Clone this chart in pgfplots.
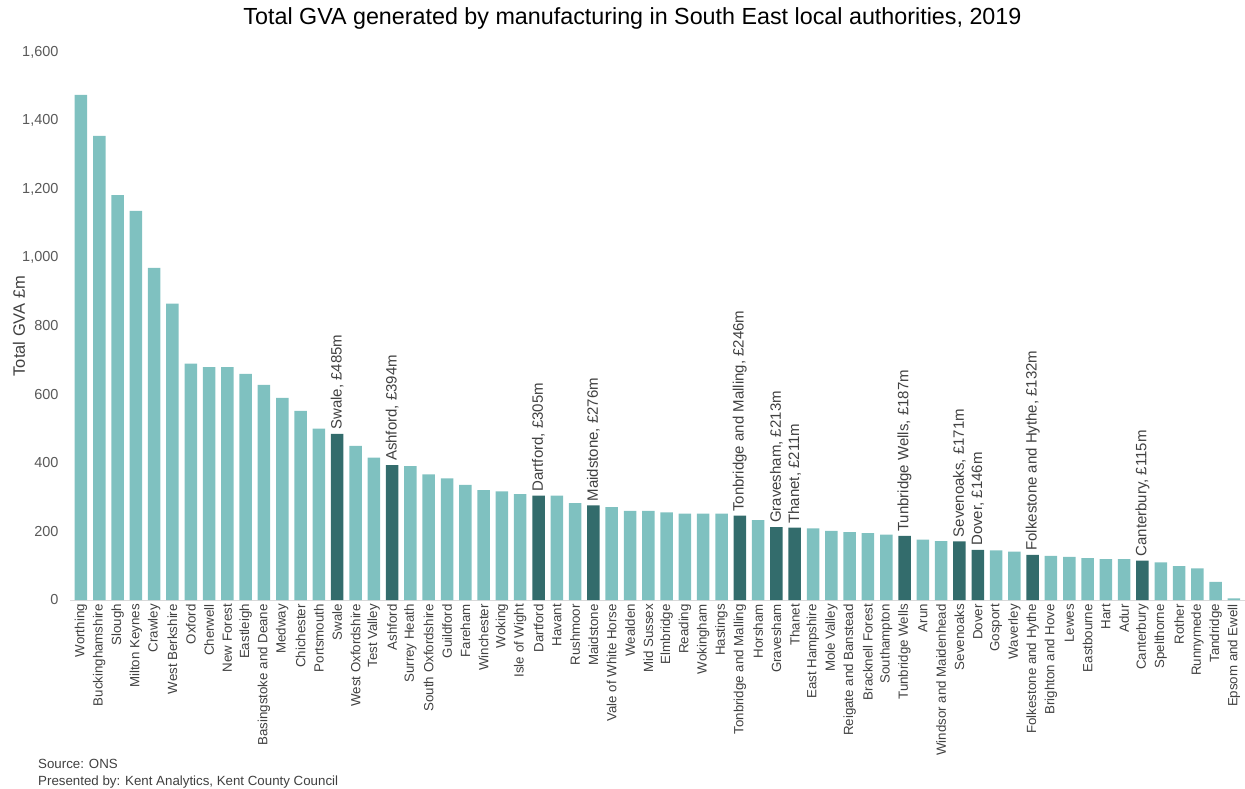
\documentclass[border=0pt]{standalone}
\usepackage{pgfplots}
\pgfplotsset{compat=1.18}
\usepackage{pgfplotstable}
\usepackage{fontspec}
\setmainfont{Liberation Sans}
\definecolor{lightbar}{RGB}{127,193,192}
\definecolor{darkbar}{RGB}{51,108,108}
\definecolor{ticktext}{RGB}{89,89,89}
\definecolor{cattext}{RGB}{64,64,64}
\definecolor{axisgrey}{RGB}{217,217,217}

\pgfplotstableread{
x y
0 1475
1 1355
2 1182
3 1136
4 970
5 865
6 690
7 680
8 680
9 660
10 628
11 590
12 552
13 500
15 450
16 416
18 391
19 367
20 355
21 336
22 321
23 317
24 309
26 305
27 283
29 271
30 260
31 260
32 256
33 252
34 252
35 252
37 233
40 209
41 202
42 198
43 195
44 191
46 176
47 172
50 145
51 141
53 129
54 126
55 122
56 119
57 119
59 110
60 99
61 92
62 53
63 5
}\lightdata

\pgfplotstableread{
x y label
14 485 {Swale, £485m}
17 394 {Ashford, £394m}
25 305 {Dartford, £305m}
28 276 {Maidstone, £276m}
36 246 {Tonbridge and Malling, £246m}
38 213 {Gravesham, £213m}
39 211 {Thanet, £211m}
45 187 {Tunbridge Wells, £187m}
48 171 {Sevenoaks, £171m}
49 146 {Dover, £146m}
52 132 {Folkestone  and Hythe, £132m}
58 115 {Canterbury, £115m}
}\darkdata

\begin{document}
\begin{tikzpicture}
\useasboundingbox (0,0) rectangle (1245bp,789bp);
\begin{axis}[
  at={(70bp,189bp)}, anchor=south west,
  scale only axis, width=1175bp, height=548bp,
  ybar, bar width=12.5bp,
  xmin=-0.6, xmax=63.6, ymin=0, ymax=1600,
  enlargelimits=false,
  axis x line=bottom, axis y line=left,
  axis line style={-},
  x axis line style={draw=axisgrey, line width=1bp},
  y axis line style={draw=none},
  xtick={0,...,63},
  xticklabels={Worthing, Buckinghamshire, Slough, Milton Keynes, Crawley, West Berkshire, Oxford, Cherwell, New Forest, Eastleigh, Basingstoke and Deane, Medway, Chichester, Portsmouth, Swale, West Oxfordshire, Test Valley, Ashford, Surrey Heath, South Oxfordshire, Guildford, Fareham, Winchester, Woking, Isle of Wight, Dartford, Havant, Rushmoor, Maidstone, Vale of White Horse, Wealden, Mid Sussex, Elmbridge, Reading, Wokingham, Hastings, Tonbridge and Malling, Horsham, Gravesham, Thanet, East Hampshire, Mole Valley, Reigate and Banstead, Bracknell Forest, Southampton, Tunbridge Wells, Arun, Windsor and Maidenhead, Sevenoaks, Dover, Gosport, Waverley, Folkestone and Hythe, Brighton and Hove, Lewes, Eastbourne, Hart, Adur, Canterbury, Spelthorne, Rother, Runnymede, Tandridge, Epsom and Ewell},
  xticklabel style={rotate=90, anchor=east, font=\fontsize{13.3bp}{16bp}\selectfont, text=cattext, inner sep=4bp},
  ytick={0,200,...,1600},
  yticklabel style={font=\fontsize{14.5bp}{17bp}\selectfont, text=ticktext, xshift=-8bp},
  /pgf/number format/assume math mode=true,
  /pgf/number format/1000 sep={,},
  major tick length=0pt,
  tick style={draw=none},
  ylabel={Total GVA £m},
  ylabel style={at={(axis description cs:-0.0434,0.5)}, anchor=center, font=\fontsize{16.5bp}{19bp}\selectfont, text=cattext},
  title={Total GVA generated by manufacturing in South East local authorities, 2019},
  title style={at={(axis description cs:0.4787,1.0401)}, anchor=base, font=\fontsize{23.3bp}{27bp}\selectfont, text=black},
  clip=false,
]
\addplot[fill=lightbar, draw=none, bar shift=0pt] table[x=x, y=y] {\lightdata};
\addplot[fill=darkbar, draw=none, bar shift=0pt,
  nodes near coords, point meta=explicit symbolic,
  nodes near coords style={rotate=90, anchor=west, font=\fontsize{15bp}{18bp}\selectfont, text=cattext, inner sep=4bp}
] table[x=x, y=y, meta=label] {\darkdata};
\end{axis}
\node[anchor=base west, font=\fontsize{13.3bp}{16bp}\selectfont, text=cattext, inner sep=0pt] at (38bp,21bp) {Source: ONS};
\node[anchor=base west, font=\fontsize{13.3bp}{16bp}\selectfont, text=cattext, inner sep=0pt] at (38bp,4bp) {Presented by: Kent Analytics, Kent County Council};
\end{tikzpicture}
\end{document}
